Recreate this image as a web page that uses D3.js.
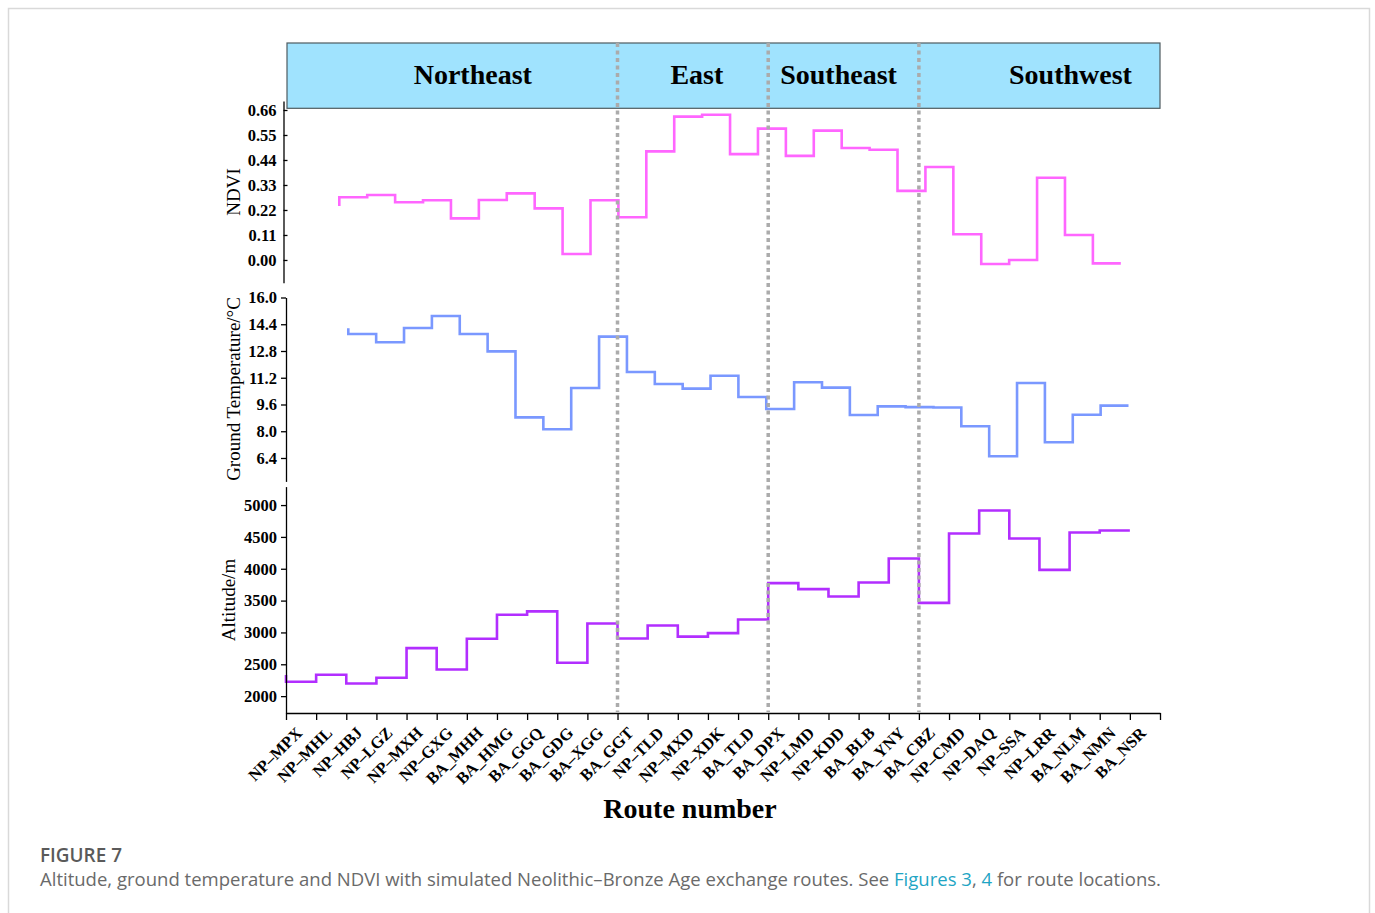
<!DOCTYPE html>
<html>
<head>
<meta charset="utf-8">
<script src="https://cdn.jsdelivr.net/npm/d3@7/dist/d3.min.js"></script>
<style>
  html, body { margin: 0; padding: 0; background: #ffffff; }
  svg { display: block; }
</style>
</head>
<body>
<svg id="fig" width="1375" height="913"></svg>
<script>
// Route numbers along the bottom axis
const routes = ["NP–MPX","NP–MHL","NP–HBJ","NP–LGZ","NP–MXH","NP–GXG","BA_MHH","BA_HMG","BA_GGQ","BA_GDG","BA–XGG","BA_GGT",
  "NP–TLD","NP–MXD","NP–XDK","BA_TLD","BA_DPX","NP–LMD","NP–KDD","BA_BLB","BA_YNY","BA_CBZ",
  "NP–CMD","NP–DAQ","NP–SSA","NP–LRR","BA_NLM","BA_NMN","BA_NSR"];

// Series values, one per route
const ndvi = [0.238, 0.276, 0.286, 0.254, 0.263, 0.183, 0.264, 0.293, 0.227, 0.026, 0.263, 0.188, 0.478, 0.631,
  0.639, 0.466, 0.578, 0.458, 0.569, 0.493, 0.485, 0.304, 0.409, 0.113, -0.018, 0.000, 0.362, 0.110, -0.015];
const temperature = [14.16, 13.82, 13.32, 14.18, 14.89, 13.82, 12.78, 8.83, 8.12, 10.59, 13.66, 11.54, 10.83, 10.55,
  11.32, 10.05, 9.33, 10.93, 10.61, 8.97, 9.49, 9.44, 9.42, 8.30, 6.50, 10.89, 7.34, 8.99, 9.53];
const altitude = [2330, 2225, 2335, 2199, 2288, 2754, 2419, 2900, 3277, 3330, 2523, 3141, 2905, 3110,
  2935, 2989, 3204, 3774, 3680, 3565, 3785, 4162, 3465, 4554, 4915, 4476, 3983, 4570, 4601];

// Regions and the route boundaries between them
const regions = ["Northeast", "East", "Southeast", "Southwest"];
const regionBreaks = [0, 11, 16, 21, 29];

// Tick labels
const ndviTicks = [0.00, 0.11, 0.22, 0.33, 0.44, 0.55, 0.66];
const tempTicks = [6.4, 8.0, 9.6, 11.2, 12.8, 14.4, 16.0];
const altTicks = [2000, 2500, 3000, 3500, 4000, 4500, 5000];

const svg = d3.select("#fig");
const serif = "'Liberation Serif', 'Times New Roman', serif";
const sans = "'Open Sans', 'Noto Sans', sans-serif";

// card frame
svg.append("rect")
  .attr("x", 8.5).attr("y", 8.5).attr("width", 1361).attr("height", 940)
  .attr("fill", "#fff").attr("stroke", "#d9d9d9").attr("stroke-width", 1.5);

// shared category axis (tick at every route boundary)
const xRoute = d3.scaleLinear().domain([0, routes.length]).range([286, 1160]);
const xBand = d3.scaleBand().domain(routes).range([286, 1160]);

// each stacked layer has its own horizontal placement
const xAlt = d3.scaleLinear().domain([0, 28]).range([xRoute(0), xRoute(28)]);
const xNdvi = d3.scaleLinear().domain([0, 28]).range([339.3, 1120.8]);
const xTemp = d3.scaleLinear().domain([0, 28]).range([348.3, 1128.5]);

const yNdvi = d3.scaleLinear().domain([-0.1, 0.7]).range([282.7, 100.9]);
const yTemp = d3.scaleLinear().domain([5, 16]).range([481.4, 297.5]);
const yAlt = d3.scaleLinear().domain([1735, 5290]).range([713, 486.6]);

// region header band
const header = svg.append("g");
header.append("rect")
  .attr("x", xRoute(0) + 1).attr("y", 43)
  .attr("width", xRoute(routes.length) - xRoute(0) - 1).attr("height", 65.3)
  .attr("fill", "#a0e3fe").attr("stroke", "#4f5b60").attr("stroke-width", 1.2);
const labelShift = [21, 4, -5, 31];
header.selectAll("text").data(regions).join("text")
  .attr("x", (d, i) => (xRoute(regionBreaks[i]) + xRoute(regionBreaks[i + 1])) / 2 + labelShift[i])
  .attr("y", 83.5)
  .attr("text-anchor", "middle")
  .attr("font-family", serif).attr("font-weight", "bold").attr("font-size", 28)
  .attr("fill", "#000")
  .text(d => d);

// step lines
function stepLine(xs, ys) {
  return d3.line().x((d, i) => xs(i)).y(d => ys(d)).curve(d3.curveStepBefore);
}
const lines = svg.append("g").attr("fill", "none").attr("stroke-width", 2.6)
  .attr("stroke-linejoin", "miter").attr("stroke-linecap", "butt");
lines.append("path").attr("d", stepLine(xNdvi, yNdvi)(ndvi)).attr("stroke", "#ff66ff");
lines.append("path").attr("d", stepLine(xTemp, yTemp)(temperature)).attr("stroke", "#7a98ff");
lines.append("path").attr("d", stepLine(xAlt, yAlt)(altitude)).attr("stroke", "#b22eff");

// axes
function styleAxis(g, size) {
  g.selectAll("path.domain").attr("stroke", "#000").attr("stroke-width", 1.3);
  g.selectAll(".tick line").attr("stroke", "#000").attr("stroke-width", 1.3);
  g.selectAll(".tick text")
    .attr("font-family", serif).attr("font-weight", "bold").attr("font-size", size).attr("fill", "#000");
}

const gNdvi = svg.append("g").attr("transform", "translate(283.5,0)")
  .call(d3.axisLeft(yNdvi).tickValues(ndviTicks).tickFormat(d3.format(".2f"))
    .tickSizeInner(-4).tickSizeOuter(0).tickPadding(7));
styleAxis(gNdvi, 16.5);

const gTemp = svg.append("g").attr("transform", "translate(286,0)")
  .call(d3.axisLeft(yTemp).tickValues(tempTicks).tickFormat(d3.format(".1f"))
    .tickSizeInner(5).tickSizeOuter(0).tickPadding(4));
styleAxis(gTemp, 16.5);

const gAlt = svg.append("g").attr("transform", "translate(286,0)")
  .call(d3.axisLeft(yAlt).tickValues(altTicks).tickFormat(d3.format("d"))
    .tickSizeInner(5).tickSizeOuter(0).tickPadding(4));
styleAxis(gAlt, 16.5);

const gX = svg.append("g").attr("transform", "translate(0,713)")
  .call(d3.axisBottom(xRoute).tickValues(d3.range(0, routes.length + 1)).tickFormat("")
    .tickSizeInner(7).tickSizeOuter(0));
styleAxis(gX, 16);

// rotated route labels at the band centres
svg.append("g").selectAll("text").data(routes).join("text")
  .attr("transform", d => `translate(${xBand(d) + xBand.bandwidth() / 2 + 2},734) rotate(-45)`)
  .attr("text-anchor", "end")
  .attr("font-family", serif).attr("font-weight", "bold").attr("font-size", 16.5)
  .attr("fill", "#000")
  .text(d => d);

// axis titles
svg.append("text")
  .attr("x", 690).attr("y", 818).attr("text-anchor", "middle")
  .attr("font-family", serif).attr("font-weight", "bold").attr("font-size", 28)
  .text("Route number");

const yTitles = [
  { text: "NDVI", x: 240, y: 192 },
  { text: "Ground Temperature/°C", x: 239.5, y: 389 },
  { text: "Altitude/m", x: 235, y: 600 }
];
svg.append("g").selectAll("text").data(yTitles).join("text")
  .attr("transform", d => `translate(${d.x},${d.y}) rotate(-90)`)
  .attr("text-anchor", "middle")
  .attr("font-family", serif).attr("font-size", 19).attr("fill", "#000")
  .text(d => d.text);

// region dividers, drawn over the series
svg.append("g").selectAll("line").data(regionBreaks.slice(1, -1)).join("line")
  .attr("x1", d => xRoute(d)).attr("x2", d => xRoute(d))
  .attr("y1", 43).attr("y2", 712)
  .attr("stroke", "#ababab").attr("stroke-width", 3.5).attr("stroke-dasharray", "4,3.5");

// caption
const figLabel = svg.append("text")
  .attr("x", 40).attr("y", 862)
  .attr("font-family", sans).attr("font-weight", 600).attr("font-size", 17)
  .attr("fill", "#5a5a5a")
  .text("FIGURE 7");
const caption = svg.append("text")
  .attr("x", 40).attr("y", 886)
  .attr("font-family", sans).attr("font-size", 17)
  .attr("fill", "#6a6a6a");
caption.append("tspan").text("Altitude, ground temperature and NDVI with simulated Neolithic–Bronze Age exchange routes. See ");
caption.append("tspan").attr("fill", "#1fa5c4").text("Figures 3");
caption.append("tspan").text(", ");
caption.append("tspan").attr("fill", "#1fa5c4").text("4");
caption.append("tspan").text(" for route locations.");

// size the caption lines to their column width
function fitWidth(sel, target) {
  const w = sel.node().getComputedTextLength();
  const fs = parseFloat(sel.attr("font-size"));
  if (w > 0) sel.attr("font-size", (fs * target / w).toFixed(2));
}
fitWidth(figLabel, 82);
fitWidth(caption, 1121);
</script>
</body>
</html>
